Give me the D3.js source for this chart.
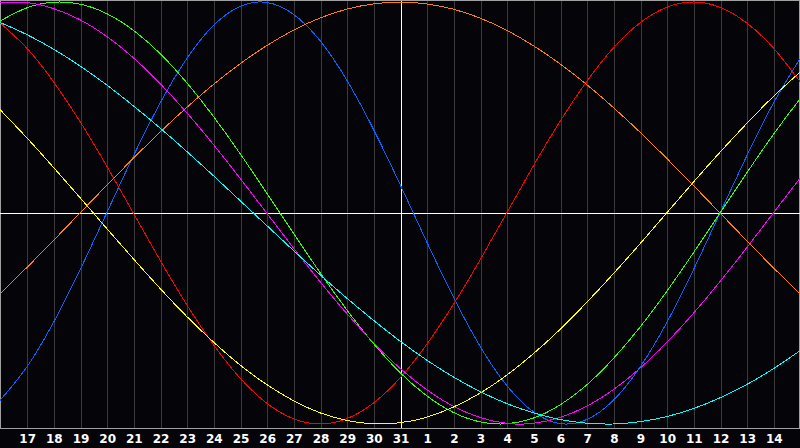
<!DOCTYPE html>
<html>
<head>
<meta charset="utf-8">
<script src="https://cdn.jsdelivr.net/npm/d3@7"></script>
<style>
  html, body { margin: 0; padding: 0; background: #050409; }
  svg { display: block; }
</style>
</head>
<body>
<svg width="800" height="448"></svg>
<script>
// calendar days shown, first is the 16th, last the 15th of next month
var days = [16, 17, 18, 19, 20, 21, 22, 23, 24, 25, 26, 27, 28, 29, 30, 31,
  1, 2, 3, 4, 5, 6, 7, 8, 9, 10, 11, 12, 13, 14, 15];

// one value per day, -1..1
var physical = [-0.888, -0.731, -0.520, -0.270, 0, 0.270, 0.520, 0.731, 0.888, 0.979,
  0.998, 0.942, 0.817, 0.631, 0.398, 0.136, -0.136, -0.398, -0.631, -0.817,
  -0.942, -0.998, -0.979, -0.888, -0.731, -0.520, -0.270, 0, 0.270, 0.520, 0.731];
var emotional = [0.901, 0.782, 0.623, 0.434, 0.223, 0, -0.223, -0.434, -0.623, -0.782,
  -0.901, -0.975, -1, -0.975, -0.901, -0.782, -0.623, -0.434, -0.223, 0,
  0.223, 0.434, 0.623, 0.782, 0.901, 0.975, 1, 0.975, 0.901, 0.782, 0.623];
var intellectual = [0.910, 0.972, 0.999, 0.990, 0.945, 0.866, 0.756, 0.618, 0.458, 0.282,
  0.095, -0.095, -0.282, -0.458, -0.618, -0.756, -0.866, -0.945, -0.990, -0.999,
  -0.972, -0.910, -0.815, -0.690, -0.541, -0.372, -0.189, 0, 0.189, 0.372, 0.541];
var intuitive = [0.997, 0.997, 0.969, 0.916, 0.837, 0.736, 0.614, 0.476, 0.325, 0.165,
  0, -0.165, -0.325, -0.476, -0.614, -0.736, -0.837, -0.916, -0.969, -0.997,
  -0.997, -0.969, -0.916, -0.837, -0.736, -0.614, -0.476, -0.325, -0.165, 0, 0.165];
var aesthetic = [0.490, 0.357, 0.217, 0.073, -0.073, -0.217, -0.357, -0.490, -0.611, -0.720,
  -0.813, -0.889, -0.947, -0.983, -0.999, -0.994, -0.968, -0.920, -0.854, -0.769,
  -0.667, -0.552, -0.424, -0.288, -0.146, 0, 0.146, 0.288, 0.424, 0.552, 0.667];
var awareness = [-0.383, -0.259, -0.131, 0, 0.131, 0.259, 0.383, 0.5, 0.609, 0.707,
  0.793, 0.866, 0.924, 0.966, 0.991, 1, 0.991, 0.966, 0.924, 0.866,
  0.793, 0.707, 0.609, 0.5, 0.383, 0.259, 0.131, 0, -0.131, -0.259, -0.383];
var spiritual = [0.903, 0.846, 0.777, 0.697, 0.607, 0.508, 0.403, 0.292, 0.177, 0.059,
  -0.059, -0.177, -0.292, -0.403, -0.508, -0.607, -0.697, -0.777, -0.846, -0.903,
  -0.947, -0.979, -0.996, -1.000, -0.989, -0.965, -0.927, -0.876, -0.813, -0.738, -0.653];

var series = [
  { name: "physical", values: physical, color: "#0066ff" },
  { name: "emotional", values: emotional, color: "#ff0000" },
  { name: "intellectual", values: intellectual, color: "#33ff00" },
  { name: "intuitive", values: intuitive, color: "#ff00ff" },
  { name: "aesthetic", values: aesthetic, color: "#ffff00" },
  { name: "awareness", values: awareness, color: "#ff8000" },
  { name: "spiritual", values: spiritual, color: "#00ffff" }
];

var svg = d3.select("svg"),
  width = 800,
  plotHeight = 428;

var x = d3.scaleLinear().domain([0, days.length - 1]).range([0, width]),
  y = d3.scaleLinear().domain([-1, 1]).range([424, 2]);

svg.append("rect").attr("width", 800).attr("height", 448).attr("fill", "#050409");

var today = days.indexOf(31);

// vertical day grid
var grid = svg.append("g")
  .attr("transform", "translate(0.5," + plotHeight + ")")
  .call(d3.axisBottom(x)
    .tickValues(d3.range(1, days.length - 1))
    .tickSize(-plotHeight)
    .tickFormat(""));
grid.select(".domain").remove();
grid.selectAll(".tick line")
  .attr("stroke", function (d) { return d == today ? "#ffffff" : "#3a3a3a"; })
  .attr("shape-rendering", "crispEdges");

// frame
svg.append("path")
  .attr("d", "M0.5," + plotHeight + "V0.5H799.5V" + plotHeight)
  .attr("fill", "none")
  .attr("stroke", "#a0a0a0")
  .attr("shape-rendering", "crispEdges");

// zero line
svg.append("line")
  .attr("x1", 0).attr("x2", width)
  .attr("y1", y(0) + 0.5).attr("y2", y(0) + 0.5)
  .attr("stroke", "#ffffff")
  .attr("shape-rendering", "crispEdges");

var line = d3.line()
  .x(function (d, i) { return x(i); })
  .y(function (d) { return y(d); })
  .curve(d3.curveNatural);

svg.append("g")
  .selectAll("path")
  .data(series)
  .enter()
  .append("path")
  .attr("fill", "none")
  .attr("stroke", function (d) { return d.color; })
  .attr("stroke-width", 1)
  .attr("shape-rendering", "crispEdges")
  .attr("d", function (d) { return line(d.values); });

// bottom axis with day numbers
var axis = svg.append("g")
  .attr("transform", "translate(0.5," + (plotHeight + 0.5) + ")")
  .call(d3.axisBottom(x)
    .tickValues(d3.range(1, days.length - 1))
    .tickSize(0)
    .tickPadding(6)
    .tickFormat(function (i) { return days[i]; }));
axis.select(".domain").remove();
axis.append("line")
  .attr("x1", -0.5).attr("x2", width)
  .attr("stroke", "#a0a0a0")
  .attr("shape-rendering", "crispEdges");
axis.selectAll("text")
  .attr("fill", "#ffffff")
  .attr("font-family", "DejaVu Sans, sans-serif")
  .attr("font-weight", "bold")
  .attr("font-size", "12px");
</script>
</body>
</html>
